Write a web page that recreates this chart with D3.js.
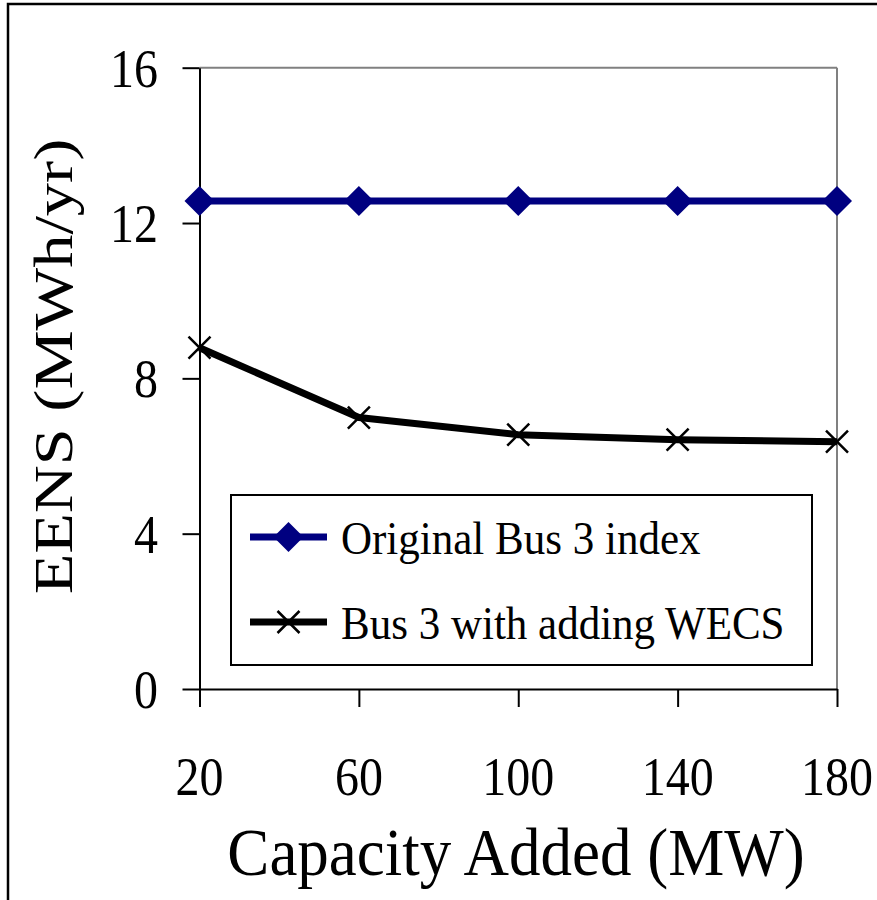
<!DOCTYPE html>
<html>
<head>
<meta charset="utf-8">
<script src="https://cdn.jsdelivr.net/npm/d3@7"></script>
<style>
  html, body { margin: 0; padding: 0; background: #fff; }
  svg { display: block; }
  text { font-family: "Liberation Serif", "Times New Roman", serif; fill: #000; }
</style>
</head>
<body>
<script>
// ---- data ----
const categories = [20, 60, 100, 140, 180];
const originalBus3 = [12.57, 12.57, 12.57, 12.57, 12.57];
const bus3WithWECS = [8.79, 6.99, 6.55, 6.42, 6.37];
const yTicks = [0, 4, 8, 12, 16];
const seriesNames = ["Original Bus 3 index", "Bus 3 with adding WECS"];
const xTitle = "Capacity Added (MW)";
const yTitle = "EENS (MWh/yr)";

const W = 877, H = 900;
const svg = d3.select("body").append("svg").attr("width", W).attr("height", H);

// outer frame (left and top edges visible)
svg.append("rect").attr("x", 8).attr("y", 4).attr("width", 900).attr("height", 920)
  .attr("fill", "none").attr("stroke", "#000").attr("stroke-width", 2.5);

const x = d3.scaleLinear().domain([20, 180]).range([199.5, 837]);
const y = d3.scaleLinear().domain([0, 16]).range([689, 67.7]);

// plot frame: top & right gray
svg.append("line").attr("x1", x(20)).attr("x2", x(180)).attr("y1", y(16)).attr("y2", y(16))
  .attr("stroke", "#808080").attr("stroke-width", 2);
svg.append("line").attr("x1", x(180)).attr("x2", x(180)).attr("y1", y(16)).attr("y2", y(0))
  .attr("stroke", "#808080").attr("stroke-width", 2);

// axes
const yAxis = svg.append("g").attr("transform", `translate(${x(20)},0)`)
  .call(d3.axisLeft(y).tickValues(yTicks).tickSize(17).tickSizeOuter(0).tickFormat(""));
const xAxis = svg.append("g").attr("transform", `translate(0,${y(0)})`)
  .call(d3.axisBottom(x).tickValues(categories).tickSize(18).tickSizeOuter(0).tickFormat(""));
[yAxis, xAxis].forEach(g => {
  g.selectAll("path, line").attr("stroke", "#000").attr("stroke-width", 2);
});

// tick labels
svg.append("g").selectAll("text").data(yTicks).join("text")
  .attr("transform", d => `translate(158,${y(d) + 19}) scale(1,1.15)`)
  .attr("text-anchor", "end").attr("font-size", 48).text(d => d);
svg.append("g").selectAll("text").data(categories).join("text")
  .attr("transform", d => `translate(${x(d)},795) scale(1,1.15)`)
  .attr("text-anchor", "middle").attr("font-size", 48).text(d => d);

// axis titles
svg.append("text").attr("transform", "translate(516,875) scale(1,1.07)")
  .attr("text-anchor", "middle").attr("font-size", 63).text(xTitle);
svg.append("text").attr("transform", "translate(72,366.5) rotate(-90) scale(1.23,1)")
  .attr("text-anchor", "middle").attr("font-size", 54).text(yTitle);

// series
const line = d3.line().x((d, i) => x(categories[i])).y(d => y(d));
const diamond = (cx, cy, r) => `M${cx},${cy - r}L${cx + r},${cy}L${cx},${cy + r}L${cx - r},${cy}Z`;
const cross = (cx, cy, r) => `M${cx - r},${cy - r}L${cx + r},${cy + r}M${cx - r},${cy + r}L${cx + r},${cy - r}`;

svg.append("path").datum(bus3WithWECS).attr("d", line)
  .attr("fill", "none").attr("stroke", "#000").attr("stroke-width", 7).attr("stroke-linejoin", "round");
svg.append("g").selectAll("path").data(bus3WithWECS).join("path")
  .attr("d", (d, i) => cross(x(categories[i]), y(d), 11))
  .attr("stroke", "#000").attr("stroke-width", 2.5).attr("fill", "none");

svg.append("path").datum(originalBus3).attr("d", line)
  .attr("fill", "none").attr("stroke", "#000080").attr("stroke-width", 7);
svg.append("g").selectAll("path").data(originalBus3).join("path")
  .attr("d", (d, i) => diamond(x(categories[i]), y(d), 15))
  .attr("fill", "#000080");

// legend
const lg = svg.append("g");
lg.append("rect").attr("x", 231).attr("y", 495).attr("width", 581).attr("height", 170)
  .attr("fill", "#fff").attr("stroke", "#000").attr("stroke-width", 2);
const rows = [537, 622];
lg.append("line").attr("x1", 250).attr("x2", 327).attr("y1", rows[0]).attr("y2", rows[0])
  .attr("stroke", "#000080").attr("stroke-width", 7);
lg.append("path").attr("d", diamond(288.5, rows[0], 15)).attr("fill", "#000080");
lg.append("line").attr("x1", 250).attr("x2", 327).attr("y1", rows[1]).attr("y2", rows[1])
  .attr("stroke", "#000").attr("stroke-width", 7);
lg.append("path").attr("d", cross(288.5, rows[1], 11)).attr("stroke", "#000").attr("stroke-width", 2.5);
lg.selectAll("text").data(seriesNames).join("text")
  .attr("transform", (d, i) => `translate(341,${[554, 639][i]}) scale(1,1.08)`)
  .attr("font-size", 43).text(d => d);
</script>
</body>
</html>
